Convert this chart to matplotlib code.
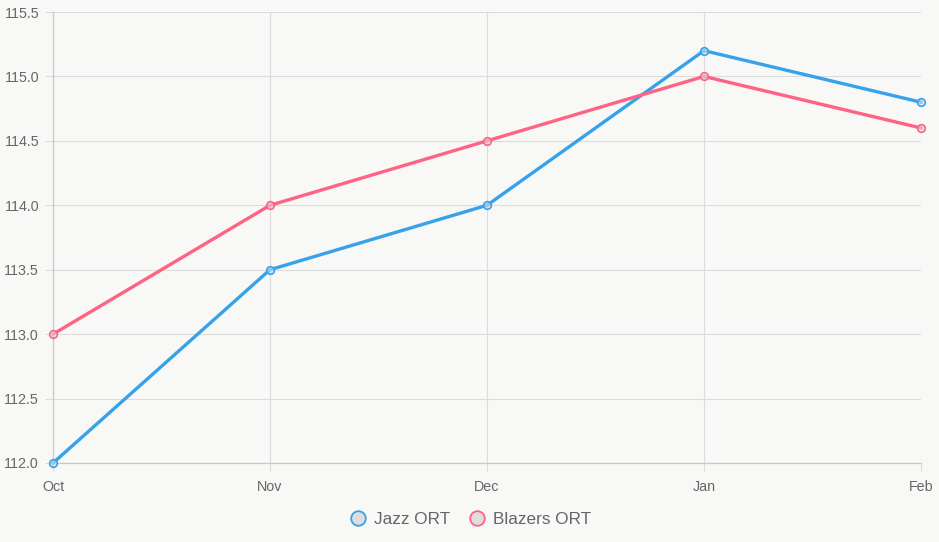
import matplotlib.pyplot as plt
from matplotlib.lines import Line2D

months = ['Oct', 'Nov', 'Dec', 'Jan', 'Feb']
jazz_ort = [112.0, 113.5, 114.0, 115.2, 114.8]
blazers_ort = [113.0, 114.0, 114.5, 115.0, 114.6]
y_ticks = [112.0, 112.5, 113.0, 113.5, 114.0, 114.5, 115.0, 115.5]

blue = '#36A2EB'
pink = '#FF6384'
bg = '#f8f8f6'
grid_c = '#dcdcdc'
text_c = '#666666'

plt.rcParams['font.family'] = ['Liberation Sans', 'DejaVu Sans']

fig = plt.figure(figsize=(9.39, 5.42), dpi=100, facecolor=bg)
ax = fig.add_axes([53 / 939, 1 - 463 / 542, (921 - 53) / 939, (463 - 12) / 542])
ax.set_facecolor(bg)

x = list(range(len(months)))
ax.plot(x, jazz_ort, color=blue, lw=2.4, marker='o', ms=5.5,
        mfc=(0.85, 0.85, 0.85, 0.6), mec=blue, mew=1.2, zorder=3, clip_on=False)
ax.plot(x, blazers_ort, color=pink, lw=2.4, marker='o', ms=5.5,
        mfc=(0.85, 0.85, 0.85, 0.6), mec=pink, mew=1.2, zorder=3, clip_on=False)

ax.set_xlim(0, len(months) - 1)
ax.set_ylim(112.0, 115.5)
ax.set_xticks(x)
ax.set_xticklabels(months)
ax.set_yticks(y_ticks)
ax.set_yticklabels([f'{v:.1f}' for v in y_ticks])

ax.grid(True, color=grid_c, lw=0.8)
ax.set_axisbelow(True)
for s in ['top', 'right']:
    ax.spines[s].set_visible(False)
for s in ['left', 'bottom']:
    ax.spines[s].set_color('#c8c8c8')
    ax.spines[s].set_linewidth(0.9)
ax.tick_params(axis='both', colors=grid_c, length=6, width=0.8, labelcolor=text_c,
               labelsize=10.3)
ax.tick_params(axis='y', pad=4)
ax.tick_params(axis='x', pad=6)

handles = [
    Line2D([], [], lw=0, marker='o', ms=10.5, mfc='#dedede', mec=blue, mew=1.3, label='Jazz ORT'),
    Line2D([], [], lw=0, marker='o', ms=10.5, mfc='#dedede', mec=pink, mew=1.3, label='Blazers ORT'),
]
fig.legend(handles=handles, loc='center', bbox_to_anchor=(0.5, 1 - 519 / 542), ncol=2,
           frameon=False, fontsize=12.3, labelcolor=text_c, handletextpad=0.3,
           columnspacing=1.0, handlelength=1.2)

fig.savefig('out.png', dpi=100, facecolor=bg)
